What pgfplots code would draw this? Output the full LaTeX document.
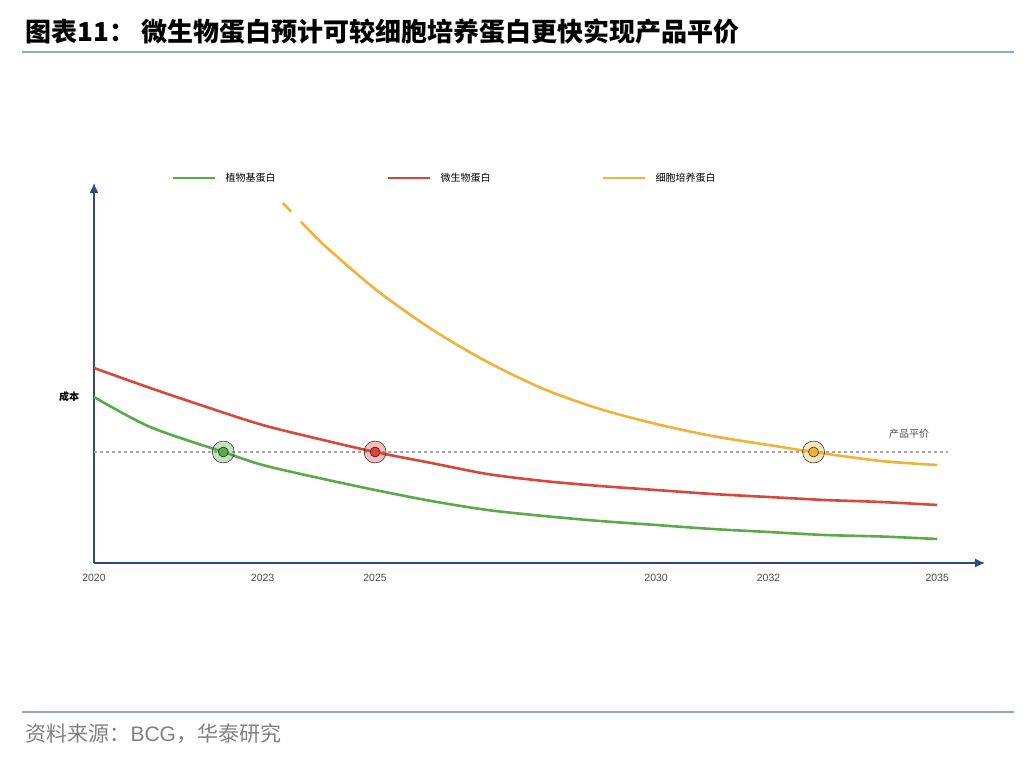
\documentclass[border=0pt]{standalone}
\usepackage{fontspec}
\setmainfont{Noto Sans CJK SC}
\newfontfamily\lat{Liberation Sans}
\usepackage{pgfplots}
\pgfplotsset{compat=1.18}
\usetikzlibrary{arrows.meta}
\definecolor{gr}{HTML}{5AAA4A}
\definecolor{rd}{HTML}{D9473C}
\definecolor{og}{HTML}{F0B23A}
\definecolor{ax}{HTML}{2F4A7A}
\definecolor{rule}{HTML}{8FA8C8}
\begin{document}
\begin{tikzpicture}[x=1pt,y=1pt]
\path[use as bounding box] (0,0) rectangle (1036,760);
\node[anchor=base west,font=\bfseries\fontsize{26}{26}\selectfont] at (22,718) {图表11：\ 微生物蛋白预计可较细胞培养蛋白更快实现产品平价};
\draw[rule,line width=1.5pt] (22,708) -- (1014,708);
\draw[rule,line width=1.5pt] (22,48) -- (1014,48);
\node[anchor=base west,text=gray,font=\fontsize{21}{21}\selectfont] at (22,18) {资料来源：{\lat BCG}，华泰研究};
% legend
\draw[gr,line width=2.8pt] (173,582) -- (215,582);
\node[anchor=west,font=\fontsize{10}{10}\selectfont] at (222,582) {植物基蛋白};
\draw[rd,line width=2.8pt] (388,582) -- (430,582);
\node[anchor=west,font=\fontsize{10}{10}\selectfont] at (437,582) {微生物蛋白};
\draw[og,line width=2.8pt] (603,582) -- (645,582);
\node[anchor=west,font=\fontsize{10}{10}\selectfont] at (652,582) {细胞培养蛋白};
\begin{axis}[at={(94pt,197pt)}, anchor=south west, scale only axis,
  width=891pt, height=380pt, xmin=2020, xmax=2035.85, ymin=0, ymax=380,
  axis lines=left, axis line style={ax,line width=1.4pt,-{Latex[length=10pt,width=9pt]}},
  xtick={2020,2023,2025,2030,2032,2035}, xticklabels={2020,2023,2025,2030,2032,2035},
  ytick=\empty, major tick length=0pt, xticklabel style={yshift=-8pt},
  tick label style={font=\lat\fontsize{10.5}{10.5}\selectfont,text=black!70},
  /pgf/number format/assume math mode=true, clip=false]
\addplot[gray!70,dashed,line width=1.2pt] coordinates {(2020,111) (2035.2,111)};
\addplot[gr,line width=2.6pt,smooth] coordinates {(2020,166) (2021,136) (2022.3,111) (2023,98) (2024,85) (2025,73) (2026,62) (2027,53) (2028,47) (2029,42) (2030,38) (2031,34) (2032,31) (2033,28) (2034,26.5) (2035,24)};
\addplot[rd,line width=2.6pt,smooth] coordinates {(2020,195) (2021,175) (2022,156) (2023,138) (2024,124) (2025,111) (2026,100) (2027,89) (2028,82) (2029,77) (2030,73) (2031,69) (2032,66) (2033,63) (2034,61) (2035,58)};
\addplot[og,line width=2.6pt,smooth] coordinates {(2024.05,320) (2025,274) (2026,234) (2027,201) (2028,174) (2029,154) (2030,139) (2031,127) (2032,118) (2032.8,111) (2034,102) (2035,98)};
\addplot[og,line width=2.6pt,dash pattern=on 12pt off 14pt on 30pt] coordinates {(2023.36,360) (2023.7,340) (2024.05,320)};
\addplot[only marks,mark=*,mark size=11pt,mark options={draw=none,fill=gr,fill opacity=0.35}] coordinates {(2022.3,111)};
\addplot[only marks,mark=*,mark size=11pt,mark options={draw=none,fill=rd,fill opacity=0.35}] coordinates {(2025,111)};
\addplot[only marks,mark=*,mark size=11pt,mark options={draw=none,fill=og,fill opacity=0.35}] coordinates {(2032.8,111)};
\addplot[only marks,mark=*,mark size=5pt,mark options={draw=none,fill=gr}] coordinates {(2022.3,111)};
\addplot[only marks,mark=*,mark size=5pt,mark options={draw=none,fill=rd}] coordinates {(2025,111)};
\addplot[only marks,mark=*,mark size=5pt,mark options={draw=none,fill=og}] coordinates {(2032.8,111)};
\node[anchor=east,font=\bfseries\fontsize{10}{10}\selectfont] at (axis cs:2019.8,166) {成本};
\node[font=\itshape\fontsize{10}{10}\selectfont,text=black!70] at (axis cs:2034.5,129) {产品平价};
\end{axis}
\end{tikzpicture}
\end{document}
